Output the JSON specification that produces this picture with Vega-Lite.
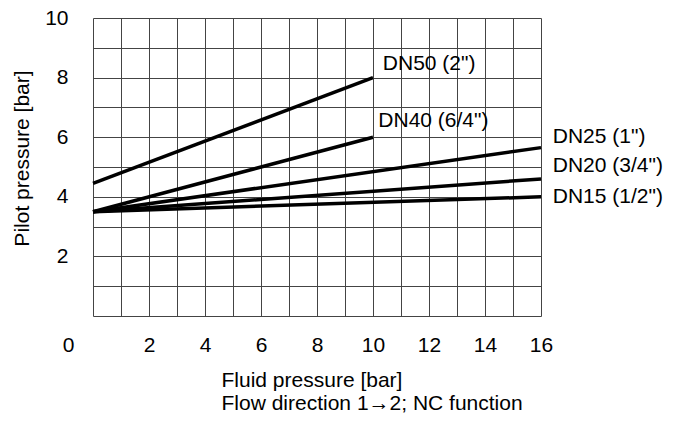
{
  "$schema": "https://vega.github.io/schema/vega-lite/v6.json",
  "width": 448,
  "height": 298,
  "autosize": {"type": "none"},
  "padding": {"left": 93, "top": 18, "right": 140, "bottom": 106},
  "background": "white",
  "config": {"view": {"stroke": null}},
  "datasets": {
    "lines": [
      {"series": "DN50", "p": 0, "q": 4.45},
      {"series": "DN50", "p": 10, "q": 8.0},
      {"series": "DN40", "p": 0, "q": 3.5},
      {"series": "DN40", "p": 10, "q": 6.0},
      {"series": "DN25", "p": 0, "q": 3.5},
      {"series": "DN25", "p": 16, "q": 5.65},
      {"series": "DN20", "p": 0, "q": 3.5},
      {"series": "DN20", "p": 16, "q": 4.6},
      {"series": "DN15", "p": 0, "q": 3.5},
      {"series": "DN15", "p": 16, "q": 4.0}
    ],
    "labels": [
      {"label": "DN50 (2\")", "p": 10.35, "q": 8.44},
      {"label": "DN40 (6/4\")", "p": 10.19, "q": 6.53},
      {"label": "DN25 (1\")", "p": 16.42, "q": 6.02},
      {"label": "DN20 (3/4\")", "p": 16.42, "q": 5.03},
      {"label": "DN15 (1/2\")", "p": 16.42, "q": 3.98}
    ]
  },
  "encoding": {
    "x": {
      "field": "p", "type": "quantitative",
      "scale": {"domain": [0, 16], "nice": false},
      "axis": {
        "values": [0,1,2,3,4,5,6,7,8,9,10,11,12,13,14,15,16],
        "labelExpr": "datum.value % 2 == 0 ? datum.label : ''",
        "labelFont": "Liberation Sans",
        "labelFontSize": 21,
        "labelColor": "black",
        "labelBaseline": "top",
        "labelPadding": 18,
        "labelOffset": {"condition": {"test": "datum.value == 0", "value": -25}, "value": 0},
        "labelFlush": false,
        "labelOverlap": false,
        "ticks": false,
        "domain": false,
        "grid": true,
        "gridColor": "#444",
        "gridWidth": 1,
        "gridOpacity": 1,
        "title": ["Fluid pressure [bar]", "Flow direction 1\u21922; NC function"],
        "titleFont": "Liberation Sans",
        "titleFontSize": 21,
        "titleFontWeight": "normal",
        "titleColor": "black",
        "titleAlign": "left",
        "titleAnchor": "start",
        "titleBaseline": "top",
        "titleX": 128,
        "titleY": 53,
        "titleLineHeight": 23.5
      }
    },
    "y": {
      "field": "q", "type": "quantitative",
      "scale": {"domain": [0, 10], "nice": false},
      "axis": {
        "values": [0,1,2,3,4,5,6,7,8,9,10],
        "labelExpr": "datum.value % 2 == 0 && datum.value != 0 ? datum.label : ''",
        "labelFont": "Liberation Sans",
        "labelFontSize": 21,
        "labelColor": "black",
        "labelBaseline": "middle",
        "labelAlign": "right",
        "labelPadding": 25,
        "labelFlush": false,
        "labelOverlap": false,
        "ticks": false,
        "domain": false,
        "grid": true,
        "gridColor": "#444",
        "gridWidth": 1,
        "gridOpacity": 1,
        "title": "Pilot pressure [bar]",
        "titleFont": "Liberation Sans",
        "titleFontSize": 21,
        "titleFontWeight": "normal",
        "titleColor": "black",
        "titleAngle": -90,
        "titleAlign": "center",
        "titleBaseline": "alphabetic",
        "titleX": -65,
        "titleY": 140
      }
    }
  },
  "layer": [
    {
      "data": {"name": "lines"},
      "mark": {"type": "line", "color": "black", "strokeWidth": 3.5, "clip": false},
      "encoding": {
        "detail": {"field": "series", "type": "nominal"}
      }
    },
    {
      "data": {"name": "labels"},
      "mark": {"type": "text", "align": "left", "baseline": "middle", "font": "Liberation Sans", "fontSize": 21, "color": "black", "clip": false},
      "encoding": {
        "text": {"field": "label", "type": "nominal"}
      }
    }
  ]
}
